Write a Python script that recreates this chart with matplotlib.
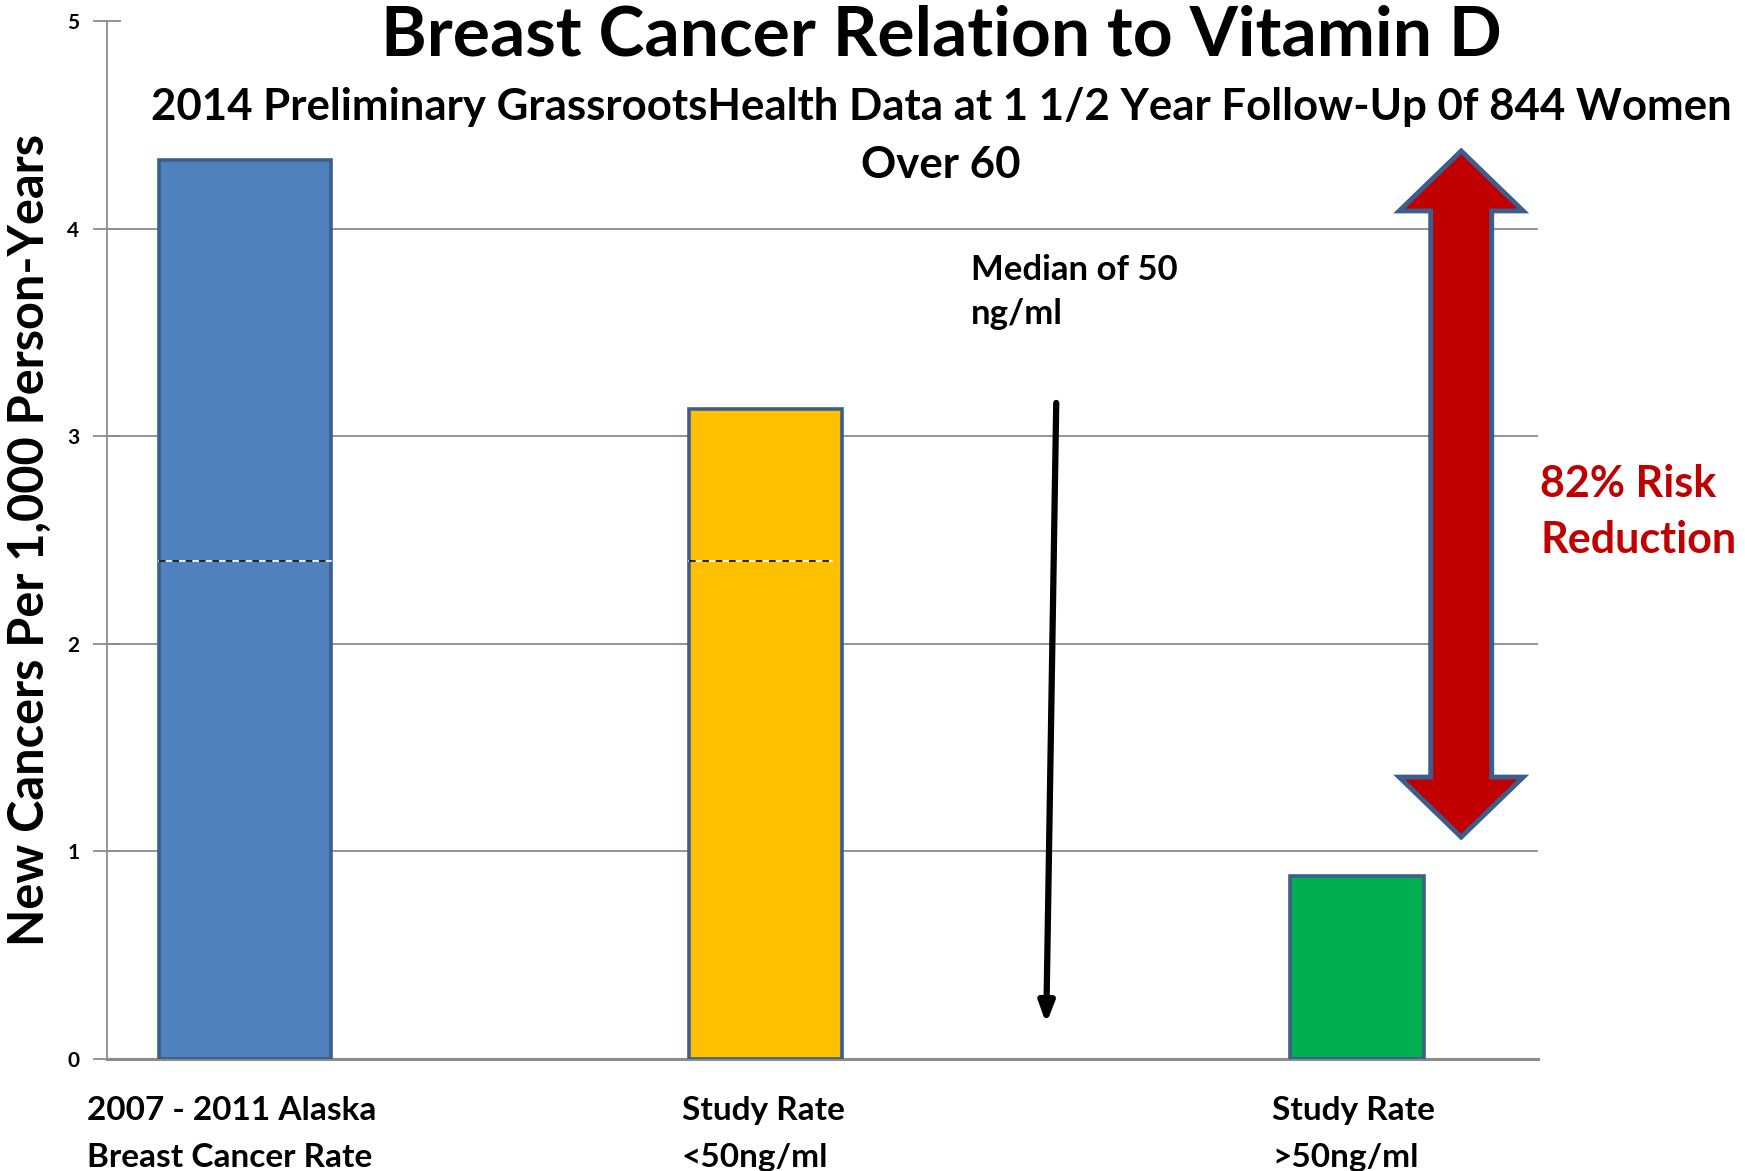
import matplotlib
matplotlib.use('Agg')
import matplotlib.pyplot as plt
import matplotlib.patches as mpatches
import numpy as np

# data
categories = ['2007 - 2011 Alaska\nBreast Cancer Rate', 'Study Rate\n<50ng/ml', 'Study Rate\n>50ng/ml']
rates = [4.33, 3.13, 0.88]
reference_level = 2.4
y_ticks = [0, 1, 2, 3, 4, 5]

bar_colors = ['#4F81BD', '#FFC000', '#00B050']
edge_col = '#3B5E8C'

plt.rcParams['font.family'] = ['Lato', 'DejaVu Sans']
plt.rcParams['font.weight'] = 'bold'

W, H = 1745, 1171
fig = plt.figure(figsize=(W / 100, H / 100), dpi=100)
ax = fig.add_axes([107 / W, 1 - 1059 / H, (1538 - 107) / W, (1059 - 21) / H])

# bar layout (category units on a 0..3 axis)
pos = [0.29, 1.38, 2.62]
widths = [0.36, 0.32, 0.28]

ax.bar(pos, rates, width=widths, color=bar_colors, edgecolor=edge_col, linewidth=2.6, zorder=3)

# dashed reference line inside first two bars
for i in range(2):
    x0 = pos[i] - widths[i] / 2
    x1 = pos[i] + widths[i] / 2 - (0.02 if i == 1 else 0)
    ax.plot([x0, x1], [reference_level, reference_level], color='white', lw=1.2, zorder=4)
    ax.plot([x0, x1], [reference_level, reference_level], color='black', lw=1.2,
            dashes=(4, 4), zorder=5)

ax.set_xlim(0, 3)
ax.set_ylim(0, 5)
ax.set_yticks(y_ticks)
ax.set_yticklabels([str(t) for t in y_ticks], fontsize=15, fontweight='bold')
ax.set_xticks([])
ax.yaxis.grid(True, color='#8C8C8C', lw=1.3, zorder=0)
ax.yaxis.get_gridlines()[-1].set_visible(False)
ax.yaxis.get_gridlines()[0].set_visible(False)
ax.tick_params(axis='y', direction='inout', length=20, width=1.3, color='#8C8C8C', pad=10)
for s in ['top', 'right']:
    ax.spines[s].set_visible(False)
ax.spines['left'].set_color('#8C8C8C')
ax.spines['left'].set_linewidth(1.3)
ax.spines['bottom'].set_color('#8C8C8C')
ax.spines['bottom'].set_linewidth(2.2)
ax.spines['bottom'].set_zorder(2)

ax.set_ylabel('New Cancers Per 1,000 Person-Years', fontsize=35, fontweight='bold')
ax.yaxis.set_label_coords((52 - 107) / (1538 - 107), 0.5)

# category labels, left aligned under bars
label_x = [87, 682, 1272]
for lx, lab in zip(label_x, categories):
    fig.text(lx / W, 1 - 1096 / H, lab, fontsize=24, fontweight='bold', ha='left', va='top',
             linespacing=1.75)

# titles
fig.text(941 / W, 1 - 36 / H, 'Breast Cancer Relation to Vitamin D', fontsize=50,
         fontweight='bold', ha='center', va='center')
fig.text(941 / W, 1 - 107 / H,
         '2014 Preliminary GrassrootsHealth Data at 1 1/2 Year Follow-Up 0f 844 Women',
         fontsize=31.5, fontweight='bold', ha='center', va='center')
fig.text(941 / W, 1 - 165 / H, 'Over 60', fontsize=31.5, fontweight='bold', ha='center',
         va='center')

# median annotation
fig.text(971 / W, 1 - 292 / H, 'Median of 50\nng/ml', fontsize=25, fontweight='bold',
         ha='left', va='center', linespacing=1.5)
ax.annotate('', xy=(1.969, 0.17), xytext=(1.99, 3.16),
            arrowprops=dict(arrowstyle='-|>,head_length=1.2,head_width=0.45', color='black',
                            lw=4.5, shrinkA=0, shrinkB=0), zorder=6)

# red double arrow
cx, sw, hw = 2.839, 0.064, 0.130
top_tip, top_base, bot_base, bot_tip = 4.374, 4.085, 1.358, 1.069
arrow_pts = [(cx, top_tip), (cx + hw, top_base), (cx + sw, top_base), (cx + sw, bot_base),
             (cx + hw, bot_base), (cx, bot_tip), (cx - hw, bot_base), (cx - sw, bot_base),
             (cx - sw, top_base), (cx - hw, top_base)]
ax.add_patch(mpatches.Polygon(arrow_pts, closed=True, facecolor='#C00000', edgecolor=edge_col,
                              linewidth=3.5, joinstyle='miter', zorder=6, clip_on=False))

fig.text(1540 / W, 1 - 512 / H, '82% Risk\nReduction', fontsize=31, fontweight='bold',
         color='#C00000', ha='left', va='center', linespacing=1.5)

fig.savefig('out.png', dpi=100)
